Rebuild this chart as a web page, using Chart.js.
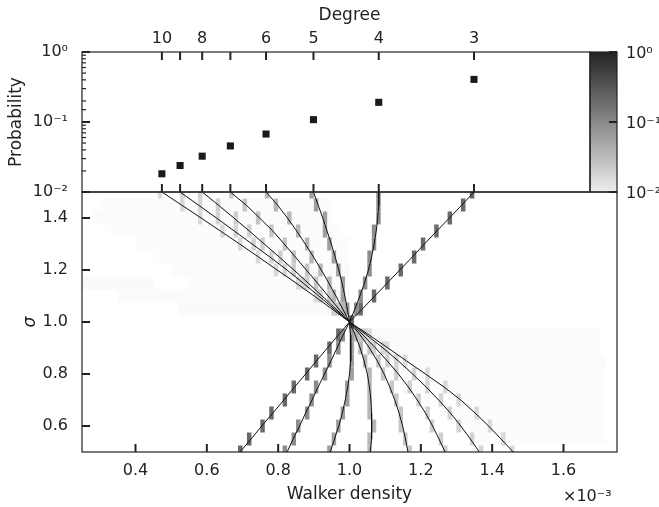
<!DOCTYPE html>
<html>
<head>
<meta charset="utf-8">
<script src="https://cdn.jsdelivr.net/npm/chart.js@4.4.1/dist/chart.umd.min.js"></script>
<style>
  html, body { margin: 0; padding: 0; background: #fff; }
  #wrap { width: 659px; height: 507px; position: relative; }
</style>
</head>
<body>
<div id="wrap"><canvas id="chart" width="659" height="507"></canvas></div>
<script>
// degree axis (top panel)
const degrees = [10, 9, 8, 7, 6, 5, 4, 3];
const degreeLabels = ['10', '', '8', '', '6', '5', '4', '3'];
const degreeDensity = [0.474, 0.525, 0.587, 0.666, 0.766, 0.899, 1.082, 1.349];
const degreeProb = [0.0182, 0.0239, 0.0325, 0.0455, 0.0673, 0.108, 0.191, 0.406];

// sigma rows of the lower panel, top to bottom
const sigmaRows = [1.50, 1.45, 1.40, 1.35, 1.30, 1.25, 1.20, 1.15, 1.10, 1.05, 1.00,
                   0.95, 0.90, 0.85, 0.80, 0.75, 0.70, 0.65, 0.60, 0.55, 0.50];

// walker density (x1e-3) of each degree class along sigmaRows
const densK10 = [0.474, 0.529, 0.584, 0.638, 0.692, 0.745, 0.797, 0.850, 0.901, 0.951, 1.000,
                 1.055, 1.108, 1.160, 1.213, 1.265, 1.312, 1.352, 1.390, 1.425, 1.459];
const densK9  = [0.525, 0.576, 0.627, 0.677, 0.727, 0.777, 0.825, 0.870, 0.914, 0.957, 1.000,
                 1.048, 1.094, 1.137, 1.177, 1.215, 1.250, 1.283, 1.312, 1.339, 1.364];
const densK8  = [0.587, 0.632, 0.676, 0.719, 0.761, 0.803, 0.844, 0.884, 0.923, 0.962, 1.000,
                 1.038, 1.073, 1.106, 1.137, 1.165, 1.190, 1.213, 1.233, 1.251, 1.268];
const densK7  = [0.666, 0.710, 0.748, 0.785, 0.817, 0.848, 0.879, 0.910, 0.940, 0.970, 1.000,
                 1.030, 1.056, 1.078, 1.097, 1.113, 1.127, 1.139, 1.149, 1.157, 1.164];
const densK6  = [0.766, 0.798, 0.826, 0.852, 0.876, 0.899, 0.921, 0.942, 0.962, 0.981, 1.000,
                 1.016, 1.030, 1.041, 1.050, 1.056, 1.060, 1.062, 1.063, 1.061, 1.058];
const densK5  = [0.899, 0.912, 0.925, 0.937, 0.949, 0.960, 0.970, 0.979, 0.987, 0.994, 1.000,
                 1.003, 1.004, 1.003, 1.000, 0.995, 0.988, 0.980, 0.970, 0.958, 0.946];
const densK4  = [1.082, 1.082, 1.079, 1.075, 1.069, 1.062, 1.053, 1.042, 1.029, 1.015, 1.000,
                 0.982, 0.965, 0.948, 0.930, 0.912, 0.895, 0.877, 0.860, 0.842, 0.825];
const densK3  = [1.349, 1.315, 1.280, 1.245, 1.210, 1.176, 1.141, 1.106, 1.071, 1.036, 1.000,
                 0.969, 0.938, 0.907, 0.877, 0.846, 0.816, 0.785, 0.754, 0.724, 0.693];
const curves = [densK10, densK9, densK8, densK7, densK6, densK5, densK4, densK3];

// histogram value of the cells following each degree class
const cellValue = [0.016, 0.018, 0.02, 0.025, 0.035, 0.06, 0.09, 0.2];

// faint histogram background, one band per row
const noiseSigma = [1.45, 1.40, 1.35, 1.30, 1.25, 1.20, 1.15, 1.15, 1.10, 1.05,
                    0.95, 0.90, 0.85, 0.80, 0.75, 0.70, 0.65, 0.60, 0.55];
const noiseFrom  = [0.30, 0.28, 0.33, 0.40, 0.45, 0.50, 0.25, 0.55, 0.35, 0.52,
                    1.00, 1.00, 1.05, 1.10, 1.15, 1.20, 1.25, 1.30, 1.35];
const noiseTo    = [0.95, 0.95, 0.98, 1.00, 1.00, 1.00, 0.45, 1.00, 1.00, 1.00,
                    1.70, 1.70, 1.72, 1.72, 1.72, 1.72, 1.72, 1.72, 1.72];
const noiseValue = [0.0074, 0.0074, 0.0072, 0.0072, 0.0072, 0.0074, 0.0076, 0.0074, 0.0074, 0.0076,
                    0.0076, 0.0074, 0.0074, 0.0072, 0.0072, 0.0072, 0.0072, 0.0072, 0.0072];

const densityTicks = [0.4, 0.6, 0.8, 1.0, 1.2, 1.4, 1.6];
const sigmaTicks = [0.6, 0.8, 1.0, 1.2, 1.4];
const colorbarTicks = [1, 0.1, 0.01];

const binWidth = 0.0125;
const rowHeight = 0.05;
const ink = '#222';
const tickFont = { family: 'DejaVu Sans', size: 16 };
const titleFont = { family: 'DejaVu Sans', size: 17 };

function greyLevel(t) {
  return Math.round(Math.min(255, Math.max(0, 238 - 203 * t)));
}
function colorFor(v) {
  const g = greyLevel((Math.log10(v) + 2) / 2);
  return `rgb(${g},${g},${g})`;
}
const SUP = { '-': '\u207B', '0': '\u2070', '1': '\u00B9', '2': '\u00B2', '3': '\u00B3' };
function decade(v) {
  const e = Math.round(Math.log10(v));
  if (Math.abs(v / Math.pow(10, e) - 1) > 1e-6) return '';
  return '10' + String(e).split('').map(c => SUP[c]).join('');
}

function line(ctx, x1, y1, x2, y2, w) {
  ctx.lineWidth = w;
  ctx.beginPath();
  ctx.moveTo(x1, y1);
  ctx.lineTo(x2, y2);
  ctx.stroke();
}

function cell(ctx, x, y, x0, x1, s) {
  const px0 = x.getPixelForValue(x0);
  const px1 = x.getPixelForValue(x1);
  const py0 = y.getPixelForValue(s + rowHeight / 2);
  const py1 = y.getPixelForValue(s - rowHeight / 2);
  ctx.fillRect(px0, py0, px1 - px0, py1 - py0);
}

const panels = {
  id: 'panels',
  beforeDatasetsDraw(chart) {
    const { ctx, scales: { x, yBot } } = chart;
    ctx.save();
    ctx.beginPath();
    ctx.rect(x.left, yBot.top, x.width, yBot.height);
    ctx.clip();
    noiseSigma.forEach((s, i) => {
      ctx.fillStyle = colorFor(noiseValue[i]);
      cell(ctx, x, yBot, noiseFrom[i], noiseTo[i], s);
    });
    curves.forEach((dens, i) => {
      ctx.fillStyle = colorFor(cellValue[i]);
      dens.forEach((d, j) => {
        const x0 = Math.floor(d / binWidth) * binWidth;
        cell(ctx, x, yBot, x0, x0 + binWidth, sigmaRows[j]);
      });
    });
    ctx.restore();
  },
  afterDraw(chart) {
    const { ctx, chartArea: ca, scales: { x, xTop, yTop, yBot } } = chart;
    const cbRight = ca.right, cbLeft = ca.right - 27;
    ctx.save();
    // colorbar
    const grad = ctx.createLinearGradient(0, yTop.bottom, 0, yTop.top);
    for (let s = 0; s <= 10; s++) {
      const g = greyLevel(s / 10);
      grad.addColorStop(s / 10, `rgb(${g},${g},${g})`);
    }
    ctx.fillStyle = grad;
    ctx.fillRect(cbLeft, yTop.top, cbRight - cbLeft, yTop.height);
    ctx.strokeStyle = ink;
    ctx.lineWidth = 1.2;
    ctx.strokeRect(ca.left, yTop.top, cbLeft - ca.left, yTop.height);
    ctx.strokeRect(cbLeft, yTop.top, cbRight - cbLeft, yTop.height);
    ctx.strokeRect(ca.left, yBot.top, ca.right - ca.left, yBot.height);
    // ticks
    yTop.ticks.forEach(t => {
      const py = yTop.getPixelForValue(t.value);
      const major = decade(t.value) !== '';
      line(ctx, ca.left, py, ca.left + (major ? 8 : 4), py, major ? 2 : 1.2);
    });
    degreeDensity.forEach(d => {
      const px = xTop.getPixelForValue(d);
      line(ctx, px, yTop.top, px, yTop.top + 8, 2);
      line(ctx, px, yTop.bottom, px, yTop.bottom - 8, 2);
    });
    densityTicks.forEach(d => {
      const px = x.getPixelForValue(d);
      line(ctx, px, yBot.bottom, px, yBot.bottom - 8, 2);
    });
    sigmaTicks.forEach(s => {
      const py = yBot.getPixelForValue(s);
      line(ctx, ca.left, py, ca.left + 8, py, 2);
    });
    ctx.fillStyle = ink;
    ctx.font = '16px "DejaVu Sans"';
    ctx.textAlign = 'left';
    ctx.textBaseline = 'middle';
    colorbarTicks.forEach(v => {
      const py = yTop.getPixelForValue(v);
      line(ctx, cbRight, py, cbRight - 8, py, 2);
      ctx.fillText(decade(v), cbRight + 9, py + 2);
    });
    ctx.textBaseline = 'alphabetic';
    ctx.fillText('\u00D710\u207B\u00B3', 563, 501);
    ctx.restore();
  }
};

const datasets = curves.map((dens, i) => ({
  label: 'k=' + degrees[i],
  type: 'scatter',
  data: dens.map((d, j) => ({ x: d, y: sigmaRows[j] })),
  xAxisID: 'x',
  yAxisID: 'yBot',
  showLine: true,
  borderColor: '#111',
  borderWidth: 1,
  pointRadius: 0,
  tension: 0
}));
datasets.push({
  label: 'Probability',
  type: 'scatter',
  data: degreeDensity.map((d, i) => ({ x: d, y: degreeProb[i] })),
  xAxisID: 'xTop',
  yAxisID: 'yTop',
  pointStyle: 'rect',
  pointRadius: 5,
  backgroundColor: '#1a1a1a',
  borderWidth: 0
});

new Chart(document.getElementById('chart'), {
  type: 'scatter',
  data: { datasets },
  options: {
    responsive: false,
    animation: false,
    devicePixelRatio: 1,
    layout: { padding: { left: 0, right: 42, top: 0, bottom: 0 }, autoPadding: false },
    plugins: { legend: { display: false }, tooltip: { enabled: false } },
    scales: {
      xTop: {
        type: 'linear', position: 'top', min: 0.25, max: 1.75,
        grid: { display: false }, border: { display: false },
        afterBuildTicks: s => { s.ticks = degreeDensity.map(v => ({ value: v })); },
        ticks: { autoSkip: false, maxRotation: 0, padding: -4, font: tickFont, color: ink,
                 callback: (v, i) => degreeLabels[i] },
        title: { display: true, text: 'Degree', font: titleFont, color: ink, padding: { top: 5, bottom: 0 } },
        afterFit: s => { s.height = 52; }
      },
      x: {
        type: 'linear', position: 'bottom', min: 0.25, max: 1.75,
        grid: { display: false }, border: { display: false },
        afterBuildTicks: s => { s.ticks = densityTicks.map(v => ({ value: v })); },
        ticks: { autoSkip: false, maxRotation: 0, padding: 1, font: tickFont, color: ink,
                 callback: v => v.toFixed(1) },
        title: { display: true, text: 'Walker density', font: titleFont, color: ink, padding: { top: 0, bottom: 2 } },
        afterFit: s => { s.height = 55; }
      },
      yTop: {
        type: 'logarithmic', position: 'left', stack: 'panels', stackWeight: 140, weight: 2,
        min: 0.01, max: 1,
        grid: { display: false }, border: { display: false },
        ticks: { autoSkip: false, padding: 6, font: tickFont, color: ink, callback: v => decade(v) },
        title: { display: true, text: 'Probability', font: titleFont, color: ink, padding: { top: 6, bottom: 0 } },
        afterFit: s => { s.width = 82; }
      },
      yBot: {
        type: 'linear', position: 'left', stack: 'panels', stackWeight: 260, weight: 1,
        min: 0.5, max: 1.5,
        grid: { display: false }, border: { display: false },
        afterBuildTicks: s => { s.ticks = sigmaTicks.map(v => ({ value: v })); },
        ticks: { autoSkip: false, padding: 6, font: tickFont, color: ink, callback: v => v.toFixed(1) },
        title: { display: true, text: '\u03C3', font: { family: 'DejaVu Sans', size: 17, style: 'italic' },
                 color: ink, padding: { top: 20, bottom: 0 } },
        afterFit: s => { s.width = 82; }
      }
    }
  },
  plugins: [panels]
});
</script>
</body>
</html>
